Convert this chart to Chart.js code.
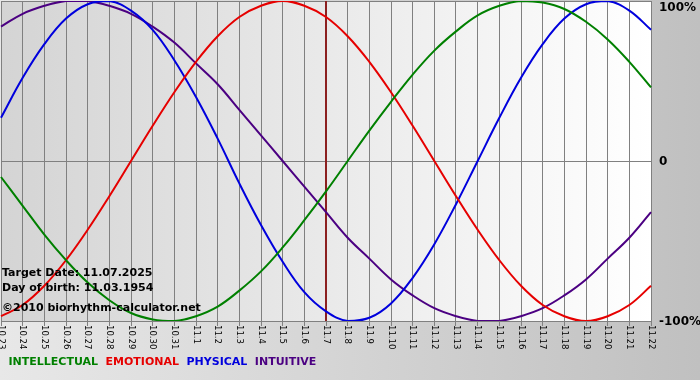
<!DOCTYPE html>
<html>
<head>
<meta charset="utf-8">
<script src="https://cdn.jsdelivr.net/npm/chart.js@4/dist/chart.umd.min.js"></script>
<style>
  html, body { margin: 0; padding: 0; background: #d0d0d0; }
  #c { display: block; }
</style>
</head>
<body>
<canvas id="c" width="700" height="380"></canvas>
<script>
// ---- data (values in percent) ----
const labels = ['10.23','10.24','10.25','10.26','10.27','10.28','10.29','10.30','10.31',
  '11.1','11.2','11.3','11.4','11.5','11.6','11.7','11.8','11.9','11.10','11.11','11.12',
  '11.13','11.14','11.15','11.16','11.17','11.18','11.19','11.20','11.21','11.22'];
const intellectual = [-10,-28,-46,-62,-76,-87,-95,-99,-100,-97,-91,-81,-69,-54,-37,-19,0,19,37,54,69,81,91,97,100,99,95,87,76,62,46];
const emotional    = [-97,-90,-78,-62,-43,-22,0,22,43,62,78,90,97,100,97,90,78,62,43,22,0,-22,-43,-62,-78,-90,-97,-100,-97,-90,-78];
const physical     = [27,52,73,89,98,100,94,82,63,40,14,-14,-40,-63,-82,-94,-100,-98,-89,-73,-52,-27,0,27,52,73,89,98,100,94,82];
const intuitive    = [84,92,97,100,100,97,92,84,74,61,48,32,16,0,-16,-32,-48,-61,-74,-84,-92,-97,-100,-100,-97,-92,-84,-74,-61,-48,-32];
const seriesNames  = ['INTELLECTUAL','EMOTIONAL','PHYSICAL','INTUITIVE'];
const yTicks       = [-100, 0, 100];
const yTickLabels  = ['-100%', '0', ['', '100%']];
const targetLabel  = '11.7';
const infoLines    = ['Target Date: 11.07.2025', 'Day of birth: 11.03.1954', '\u00A92010 biorhythm-calculator.net'];

const colors = ['#008000', '#e60000', '#0000dd', '#4b0082'];
const FONT = '"DejaVu Sans", Verdana, sans-serif';

const bgPlugin = {
  id: 'bg',
  beforeDraw(chart) {
    const {ctx, width, height, chartArea: a} = chart;
    ctx.save();
    const g = ctx.createLinearGradient(0, 0, width, 0);
    g.addColorStop(0, '#e8e8e8');
    g.addColorStop(1, '#c0c0c0');
    ctx.fillStyle = g;
    ctx.fillRect(0, 0, width, height);
    const g2 = ctx.createLinearGradient(a.left, 0, a.right, 0);
    g2.addColorStop(0, '#d4d4d4');
    g2.addColorStop(1, '#ffffff');
    ctx.fillStyle = g2;
    ctx.fillRect(a.left, a.top, a.right - a.left, a.bottom - a.top);
    ctx.restore();
  }
};

const markerPlugin = {
  id: 'marker',
  beforeDatasetsDraw(chart) {
    const {ctx, chartArea: a} = chart;
    const x = chart.scales.x.getPixelForValue(labels.indexOf(targetLabel));
    ctx.save();
    ctx.strokeStyle = '#8c2020';
    ctx.lineWidth = 2;
    ctx.beginPath();
    ctx.moveTo(x, a.top);
    ctx.lineTo(x, a.bottom);
    ctx.stroke();
    ctx.restore();
  }
};

const xLabelPlugin = {
  id: 'xlabels',
  afterDraw(chart) {
    const {ctx, chartArea: a} = chart;
    const xs = chart.scales.x;
    ctx.save();
    ctx.fillStyle = '#000';
    ctx.font = '8.5px ' + FONT;
    ctx.textAlign = 'left';
    ctx.textBaseline = 'middle';
    labels.forEach((lab, i) => {
      const x = xs.getPixelForTick(i);
      ctx.save();
      ctx.translate(x, a.bottom + 4);
      ctx.rotate(Math.PI / 2);
      ctx.fillText(lab, 0, 0);
      ctx.restore();
    });
    ctx.restore();
  }
};

const infoPlugin = {
  id: 'info',
  afterDatasetsDraw(chart) {
    const {ctx, chartArea: a} = chart;
    ctx.save();
    ctx.fillStyle = '#000';
    ctx.font = 'bold 11px ' + FONT;
    ctx.textAlign = 'left';
    ctx.textBaseline = 'alphabetic';
    const offs = [45, 30, 10];
    infoLines.forEach((t, i) => ctx.fillText(t, a.left + 1, a.bottom - offs[i]));
    ctx.restore();
  }
};

const seriesData = [intellectual, emotional, physical, intuitive];

new Chart(document.getElementById('c'), {
  type: 'line',
  data: {
    labels: labels,
    datasets: seriesData.map((d, i) => ({
      label: seriesNames[i],
      data: d,
      borderColor: colors[i],
      backgroundColor: colors[i],
      borderWidth: 2,
      pointRadius: 0,
      tension: 0.4,
      fill: false
    }))
  },
  options: {
    responsive: false,
    animation: false,
    devicePixelRatio: 1,
    layout: { padding: { left: 1, top: 1, right: 0, bottom: 2 } },
    plugins: {
      tooltip: { enabled: false },
      legend: {
        position: 'bottom',
        align: 'start',
        labels: {
          boxWidth: 0,
          boxHeight: 0,
          padding: 2,
          font: { family: FONT, size: 11, weight: 'bold' },
          generateLabels: (chart) => chart.data.datasets.map((ds, i) => ({
            text: ds.label,
            fontColor: colors[i],
            fillStyle: 'rgba(0,0,0,0)',
            strokeStyle: 'rgba(0,0,0,0)',
            lineWidth: 0,
            hidden: false,
            datasetIndex: i
          }))
        }
      }
    },
    scales: {
      x: {
        type: 'category',
        offset: false,
        grid: { color: '#808080', lineWidth: 1, drawTicks: true, tickLength: 5, tickColor: '#808080' },
        border: { display: true, color: '#808080' },
        ticks: { display: false, autoSkip: false },
        afterFit(s) { s.height = 34; s.paddingLeft = 0; s.paddingRight = 0; }
      },
      y: {
        position: 'right',
        min: -100,
        max: 100,
        grid: { color: '#808080', lineWidth: 1, drawTicks: false },
        border: { display: true, color: '#808080' },
        afterBuildTicks(s) { s.ticks = yTicks.map(v => ({ value: v })); },
        ticks: {
          padding: 8,
          labelOffset: 1,
          color: '#000',
          font: { family: FONT, size: 12, weight: 'bold', lineHeight: 1.0 },
          callback: (v) => yTickLabels[yTicks.indexOf(v)]
        },
        afterFit(s) { s.width = 49; s.paddingTop = 0; s.paddingBottom = 0; }
      }
    }
  },
  plugins: [bgPlugin, markerPlugin, xLabelPlugin, infoPlugin]
});
</script>
</body>
</html>
